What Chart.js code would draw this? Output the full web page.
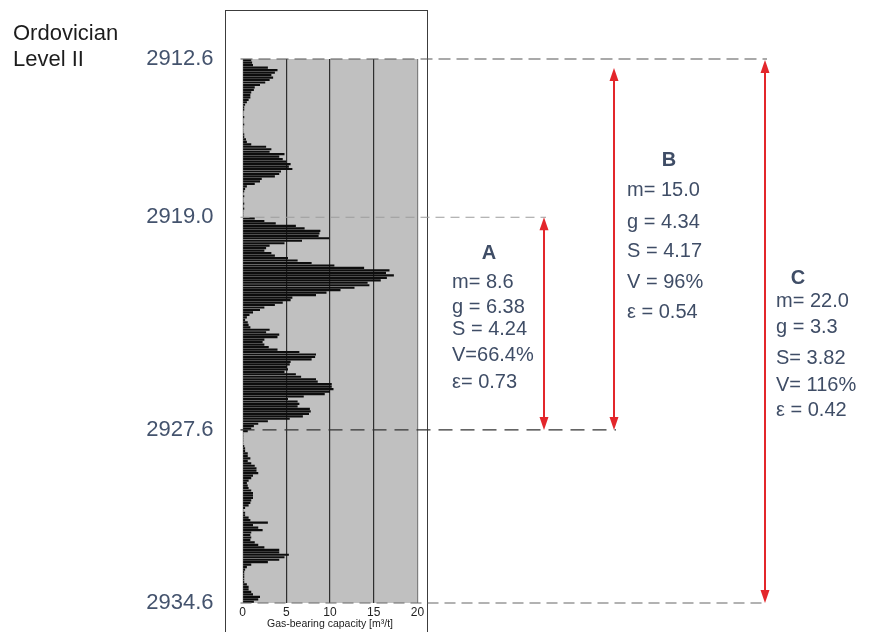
<!DOCTYPE html>
<html>
<head>
<meta charset="utf-8">
<script src="https://cdn.jsdelivr.net/npm/chart.js@4.4.1/dist/chart.umd.min.js"></script>
<style>
html,body{margin:0;padding:0;background:#ffffff;}
#wrap{width:872px;height:632px;position:relative;}
canvas{display:block;}
</style>
</head>
<body>
<div id="wrap"><canvas id="c" width="872" height="632"></canvas></div>
<script>
// Gas-bearing capacity [m3/t], one value per 0.1 m from 2912.6 m downward
const gasCapacity = [
  1.0,1.1,1.2,2.9,4.0,3.7,3.3,3.5,3.1,2.6,2.0,1.4,1.3,1.0,0.9,0.9,0.7,0.5,0.3,0.2,0.2,0.1,0.1,0.2,0.1,0.1,0.2,0.1,0.1,0.1,0.2,
  0.2,0.4,0.5,1.0,2.7,3.3,3.1,4.8,4.2,4.6,5.0,5.5,5.3,5.7,4.4,4.2,3.7,2.2,2.0,1.4,0.5,0.3,0.2,0.1,0.2,0.1,0.1,0.2,0.1,0.2,0.1,0.1,
  0.1,1.4,2.5,3.8,6.1,7.1,8.9,8.8,8.7,9.9,6.8,4.8,3.1,2.7,2.5,3.3,3.7,5.2,6.3,7.9,10.5,13.9,16.8,16.4,17.3,16.5,15.8,14.3,14.5,12.8,11.2,9.6,8.4,
  5.7,5.5,4.6,3.7,2.5,2.0,1.2,0.8,0.5,0.3,0.6,0.7,0.9,3.1,2.7,4.2,4.0,2.5,2.3,2.5,3.0,4.0,6.5,8.4,8.3,7.9,5.5,5.4,5.1,5.2,4.8,6.1,6.7,
  8.4,8.6,10.2,10.2,10.4,10.0,9.4,7.0,5.2,6.3,6.5,6.3,7.7,7.8,7.6,6.9,5.4,2.9,1.8,1.3,1.0,0.6,0.1,0.1,0.1,0.1,0.1,0.2,0.3,0.3,0.6,0.6,
  0.9,0.6,1.0,1.4,1.6,1.6,1.8,1.2,1.0,0.7,0.5,0.6,0.7,1.0,1.2,1.2,1.2,1.0,0.9,0.7,0.3,0.1,0.3,0.3,0.7,0.9,2.9,1.2,1.8,2.3,1.0,0.9,
  1.0,0.9,1.4,1.8,2.5,4.2,4.2,5.3,4.8,4.2,2.9,1.0,0.5,0.3,0.2,0.2,0.2,0.2,0.2,0.5,0.7,0.7,1.0,1.2,2.0,1.8,1.3
];
const depthTop = 2912.6;
const depthBottom = 2934.6;
const depthStep = 0.1;
const depthLabels = gasCapacity.map((_, i) => (depthTop + depthStep * i).toFixed(1));
const depthTicks = [2912.6, 2919.0, 2927.6, 2934.6];
const capacityTicks = [0, 5, 10, 15, 20];

const intervalNames = ['A', 'B', 'C'];
const intervalTop = [2919.0, 2912.6, 2912.6];
const intervalBottom = [2927.6, 2927.6, 2934.6];
const intervalStats = [
  ['m= 8.6', 'g = 6.38', 'S = 4.24', 'V=66.4%', 'ε= 0.73'],
  ['m= 15.0', 'g = 4.34', 'S = 4.17', 'V = 96%', 'ε = 0.54'],
  ['m= 22.0', 'g = 3.3', 'S= 3.82', 'V= 116%', 'ε = 0.42']
];
const formationLines = ['Ordovician', 'Level II'];

const FONT = '"Liberation Sans", Arial, Helvetica, sans-serif';
const TEXT_BLUE = '#3f4d66';

// layout of the annotation column (pixels)
const arrowX = [544, 614, 765];
const arrowTopShift = [0, 9, 1];
const nameXY = [[489, 253], [669, 160], [798, 278]];
const statsX = [452, 627, 776];
const statsY = [[282, 307, 329, 355, 382], [190, 222, 251, 282, 312], [301, 327, 358, 385, 410]];
const boundaryStyle = [
  {depth: 2912.6, toArrow: 2, color: '#555555', width: 1.2, dash: [12, 6]},
  {depth: 2919.0, toArrow: 0, color: '#9c9c9c', width: 1, dash: [9, 6]},
  {depth: 2927.6, toArrow: 1, color: '#333333', width: 1.4, dash: [14, 8]},
  {depth: 2934.6, toArrow: 2, color: '#666666', width: 1.2, dash: [11, 6]}
];

function drawArrow(ctx, x, y1, y2) {
  const head = 13, half = 4.5;
  ctx.strokeStyle = '#e3262b';
  ctx.fillStyle = '#e3262b';
  ctx.lineWidth = 2;
  ctx.setLineDash([]);
  ctx.beginPath();
  ctx.moveTo(x, y1 + head - 1);
  ctx.lineTo(x, y2 - head + 1);
  ctx.stroke();
  ctx.beginPath();
  ctx.moveTo(x, y1); ctx.lineTo(x - half, y1 + head); ctx.lineTo(x + half, y1 + head); ctx.closePath();
  ctx.fill();
  ctx.beginPath();
  ctx.moveTo(x, y2); ctx.lineTo(x - half, y2 - head); ctx.lineTo(x + half, y2 - head); ctx.closePath();
  ctx.fill();
}

const decor = {
  id: 'decor',
  beforeDraw(chart) {
    const {ctx, chartArea: a} = chart;
    ctx.save();
    ctx.fillStyle = '#c0c0c0';
    ctx.fillRect(a.left, a.top, a.right - a.left, a.bottom - a.top);
    ctx.strokeStyle = '#3c3c3c';
    ctx.lineWidth = 1;
    ctx.strokeRect(Math.round(a.left - 18) + 0.5, 10.5, Math.round(a.right - a.left + 27), 660);
    ctx.restore();
  },
  afterDraw(chart) {
    const {ctx, chartArea: a} = chart;
    const yd = chart.scales.yd;
    ctx.save();
    // boundary dashed lines
    boundaryStyle.forEach(b => {
      const y = yd.getPixelForValue(b.depth);
      ctx.strokeStyle = b.color;
      ctx.lineWidth = b.width;
      ctx.setLineDash(b.dash);
      ctx.beginPath();
      ctx.moveTo(a.left - 2, y);
      ctx.lineTo(arrowX[b.toArrow] + 2, y);
      ctx.stroke();
    });
    // arrows
    intervalNames.forEach((n, i) => {
      const y1 = yd.getPixelForValue(intervalTop[i]) + arrowTopShift[i];
      const y2 = yd.getPixelForValue(intervalBottom[i]);
      drawArrow(ctx, arrowX[i], y1, y2);
    });
    // texts
    ctx.fillStyle = TEXT_BLUE;
    ctx.textBaseline = 'middle';
    intervalNames.forEach((n, i) => {
      ctx.font = 'bold 20px ' + FONT;
      ctx.textAlign = 'center';
      ctx.fillText(n, nameXY[i][0], nameXY[i][1]);
      ctx.font = '20px ' + FONT;
      ctx.textAlign = 'left';
      intervalStats[i].forEach((t, j) => ctx.fillText(t, statsX[i], statsY[i][j]));
    });
    ctx.fillStyle = '#1c1c1c';
    ctx.font = '22px ' + FONT;
    ctx.textAlign = 'left';
    ctx.fillText(formationLines[0], 13, 34);
    ctx.fillText(formationLines[1], 13, 60);
    ctx.restore();
  }
};

new Chart(document.getElementById('c'), {
  type: 'bar',
  data: {
    labels: depthLabels,
    datasets: [{
      data: gasCapacity,
      backgroundColor: '#0d0d0d',
      borderWidth: 0,
      barPercentage: 0.88,
      categoryPercentage: 1.0,
      xAxisID: 'x',
      yAxisID: 'y'
    }]
  },
  options: {
    indexAxis: 'y',
    responsive: false,
    animation: false,
    devicePixelRatio: 1,
    layout: {padding: {left: 0, right: 454.5, top: 59, bottom: 0}},
    plugins: {legend: {display: false}, tooltip: {enabled: false}},
    scales: {
      y: {type: 'category', display: false},
      yd: {
        type: 'linear',
        position: 'left',
        reverse: true,
        offset: false,
        min: depthTop,
        max: depthBottom,
        afterBuildTicks: s => { s.ticks = depthTicks.map(v => ({value: v})); },
        afterFit: s => { s.width = 242.5; s.paddingTop = 0; s.paddingBottom = 0; },
        grid: {display: false, drawTicks: false, offset: false},
        border: {display: false},
        ticks: {
          autoSkip: false,
          padding: 29,
          color: '#44536d',
          font: {family: FONT, size: 22},
          callback: v => Number(v).toFixed(1)
        }
      },
      x: {
        type: 'linear',
        position: 'bottom',
        min: 0,
        max: 20,
        afterBuildTicks: s => { s.ticks = capacityTicks.map(v => ({value: v})); },
        afterFit: s => { s.height = 29; },
        border: {display: false},
        grid: {
          drawTicks: false,
          lineWidth: 1.2,
          color: c => c.tick.value === 0 ? 'rgba(0,0,0,0)' : (c.tick.value === 20 ? '#7f7f7f' : '#2e2e2e')
        },
        ticks: {padding: 2, color: '#222222', font: {family: FONT, size: 12}},
        title: {
          display: true,
          text: 'Gas-bearing capacity [m³/t]',
          color: '#222222',
          font: {family: FONT, size: 10.5},
          padding: {top: 0, bottom: 2}
        }
      }
    }
  },
  plugins: [decor]
});
</script>
</body>
</html>
